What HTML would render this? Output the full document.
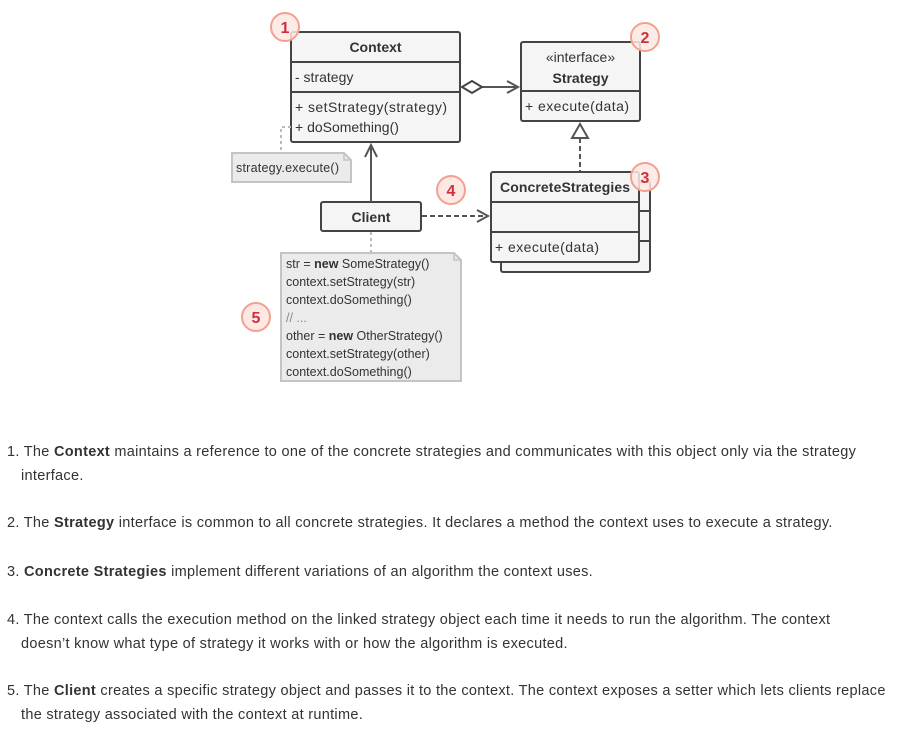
<!DOCTYPE html>
<html><head><meta charset="utf-8"><style>
body{margin:0;width:899px;height:741px;background:#fff;font-family:"Liberation Sans",sans-serif;color:#333;position:relative;overflow:hidden}
svg{position:absolute;left:0;top:0}
.p{position:absolute;left:7px;font-size:14.5px;letter-spacing:0.3px;line-height:24px;white-space:nowrap;color:#333}
.p span{padding-left:14px}
</style></head><body>
<svg width="899" height="400" viewBox="0 0 899 400" font-family="Liberation Sans, sans-serif" font-size="14">
<rect x="291" y="32" width="169" height="110" rx="2" fill="#f5f5f5" stroke="#444" stroke-width="2"/>
<line x1="291" y1="62" x2="460" y2="62" stroke="#444" stroke-width="2"/>
<line x1="291" y1="92" x2="460" y2="92" stroke="#444" stroke-width="2"/>
<text x="375.5" y="52" text-anchor="middle" font-weight="bold" fill="#333">Context</text>
<text x="295" y="82" fill="#333">- strategy</text>
<text x="295" y="112" fill="#333" textLength="152">+ setStrategy(strategy)</text>
<text x="295" y="132" fill="#333">+ doSomething()</text>
<rect x="521" y="42" width="119" height="79" rx="2" fill="#f5f5f5" stroke="#444" stroke-width="2"/>
<line x1="521" y1="91" x2="640" y2="91" stroke="#444" stroke-width="2"/>
<text x="580.5" y="62" text-anchor="middle" fill="#333">«interface»</text>
<text x="580.5" y="83" text-anchor="middle" font-weight="bold" fill="#333">Strategy</text>
<text x="525" y="111" fill="#333" textLength="104">+ execute(data)</text>
<line x1="482" y1="87" x2="518" y2="87" stroke="#555" stroke-width="2"/>
<polygon points="462,87 472,81 482,87 472,93" fill="#fff" stroke="#444" stroke-width="2"/>
<polyline points="507,81 518,87 507,93" fill="none" stroke="#555" stroke-width="2"/>
<line x1="580" y1="138" x2="580" y2="172" stroke="#555" stroke-width="2" stroke-dasharray="5,3"/>
<polygon points="580,124 572,138 588,138" fill="#fff" stroke="#555" stroke-width="2"/>
<rect x="501" y="182" width="149" height="90" rx="2" fill="#f5f5f5" stroke="#444" stroke-width="2"/>
<line x1="640" y1="211" x2="650" y2="211" stroke="#444" stroke-width="2"/>
<line x1="640" y1="241" x2="650" y2="241" stroke="#444" stroke-width="2"/>
<rect x="491" y="172" width="148" height="90" rx="2" fill="#f5f5f5" stroke="#444" stroke-width="2"/>
<line x1="491" y1="202" x2="639" y2="202" stroke="#444" stroke-width="2"/>
<line x1="491" y1="232" x2="639" y2="232" stroke="#444" stroke-width="2"/>
<text x="500" y="192" font-weight="bold" fill="#333" textLength="130">ConcreteStrategies</text>
<text x="495" y="252" fill="#333" textLength="104">+ execute(data)</text>
<rect x="321" y="202" width="100" height="29" rx="2" fill="#f5f5f5" stroke="#444" stroke-width="2"/>
<text x="371" y="222" text-anchor="middle" font-weight="bold" fill="#333">Client</text>
<line x1="371" y1="202" x2="371" y2="145" stroke="#555" stroke-width="2"/>
<polyline points="365,157 371,145 377,157" fill="none" stroke="#555" stroke-width="2"/>
<line x1="422" y1="216" x2="488" y2="216" stroke="#555" stroke-width="2" stroke-dasharray="5,3"/>
<polyline points="477,210 488,216 477,222" fill="none" stroke="#555" stroke-width="2"/>
<polyline points="291,127 281,127 281,151" fill="none" stroke="#bbb" stroke-width="2" stroke-dasharray="3,3"/>
<path d="M232,153 H344 L351,160 V182 H232 Z" fill="#ebebeb" stroke="#c4c4c4" stroke-width="2"/>
<path d="M344,153 V160 H351" fill="none" stroke="#c4c4c4" stroke-width="1.5"/>
<text x="236" y="172" font-size="12.5" fill="#333" textLength="103">strategy.execute()</text>
<line x1="371" y1="232" x2="371" y2="252" stroke="#bbb" stroke-width="2" stroke-dasharray="3,3"/>
<path d="M281,253 H454 L461,260 V381 H281 Z" fill="#ebebeb" stroke="#c4c4c4" stroke-width="2"/>
<path d="M454,253 V260 H461" fill="none" stroke="#c4c4c4" stroke-width="1.5"/>
<g font-size="12.5" fill="#333">
<text x="286" y="268">str = <tspan font-weight="bold">new</tspan> SomeStrategy()</text>
<text x="286" y="286">context.setStrategy(str)</text>
<text x="286" y="304">context.doSomething()</text>
<text x="286" y="322" fill="#888">// ...</text>
<text x="286" y="340">other = <tspan font-weight="bold">new</tspan> OtherStrategy()</text>
<text x="286" y="358">context.setStrategy(other)</text>
<text x="286" y="376">context.doSomething()</text>
</g>
<g font-size="16" font-weight="bold" fill="#d0303c" text-anchor="middle">
<circle cx="285" cy="27" r="14" fill="#fde8e3" fill-opacity="0.85" stroke="#f4a090" stroke-width="2"/><text x="285" y="33">1</text>
<circle cx="645" cy="37" r="14" fill="#fde8e3" fill-opacity="0.85" stroke="#f4a090" stroke-width="2"/><text x="645" y="43">2</text>
<circle cx="645" cy="177" r="14" fill="#fde8e3" fill-opacity="0.85" stroke="#f4a090" stroke-width="2"/><text x="645" y="183">3</text>
<circle cx="451" cy="190" r="14" fill="#fde8e3" stroke="#f4a090" stroke-width="2"/><text x="451" y="196">4</text>
<circle cx="256" cy="317" r="14" fill="#fde8e3" stroke="#f4a090" stroke-width="2"/><text x="256" y="323">5</text>
</g>
</svg>
<div class="p" style="top:440px">1. The <b>Context</b> maintains a reference to one of the concrete strategies and communicates with this object only via the strategy<br><span>interface.</span></div>
<div class="p" style="top:511px">2. The <b>Strategy</b> interface is common to all concrete strategies. It declares a method the context uses to execute a strategy.</div>
<div class="p" style="top:560px">3. <b>Concrete Strategies</b> implement different variations of an algorithm the context uses.</div>
<div class="p" style="top:608px">4. The context calls the execution method on the linked strategy object each time it needs to run the algorithm. The context<br><span>doesn’t know what type of strategy it works with or how the algorithm is executed.</span></div>
<div class="p" style="top:679px">5. The <b>Client</b> creates a specific strategy object and passes it to the context. The context exposes a setter which lets clients replace<br><span>the strategy associated with the context at runtime.</span></div>
</body></html>
